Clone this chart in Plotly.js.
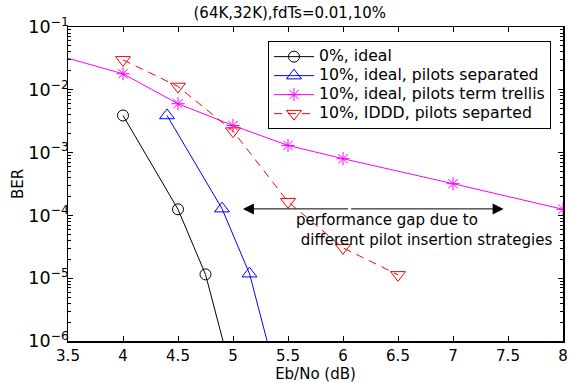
<!DOCTYPE html>
<html>
<head>
<meta charset="utf-8">
<script src="https://cdn.plot.ly/plotly-3.0.1.min.js"></script>
<style>
html,body{margin:0;padding:0;background:#fff;}
#chart{width:569px;height:383px;}
.legendtext{font-size:15.7px !important;}
</style>
</head>
<body>
<div id="chart"></div>
<script>
// Data
const xIdeal0 = [4, 4.5, 4.75, 5.0];
const berIdeal0 = [3.9e-3, 1.25e-4, 1.15e-5, 2.5e-7];

const xIdealSep = [4.4, 4.9, 5.15, 5.4];
const berIdealSep = [3.9e-3, 1.28e-4, 1.18e-5, 2.5e-7];

const xTrellis = [3.0, 4, 4.5, 5, 5.5, 6, 7, 8];
const berTrellis = [5.6e-2, 1.8e-2, 6.0e-3, 2.7e-3, 1.3e-3, 8.0e-4, 3.2e-4, 1.25e-4];

const xIDDD = [4, 4.5, 5, 5.5, 6, 6.5];
const berIDDD = [3.0e-2, 1.13e-2, 2.2e-3, 1.65e-4, 3.05e-5, 1.13e-5];

const seriesNames = ['0%, ideal', '10%, ideal, pilots separated', '10%, ideal, pilots term trellis', '10%, IDDD, pilots separted'];
const xTickVals = [3.5, 4, 4.5, 5, 5.5, 6, 6.5, 7, 7.5, 8];
const titleText = '(64K,32K),fdTs=0.01,10%';
const xLabel = 'Eb/No (dB)';
const yLabel = 'BER';
const gapArrow = {left: 5.09, mid: 6.06, right: 7.46, ber: 1.27e-4};
const gapText = {x: 5.55, ber: 5.78e-5, text: 'performance gap due to<br> different pilot insertion strategies'};

const font = 'DejaVu Sans, Liberation Sans, Arial, sans-serif';

const traces = [
  {x: xIdeal0, y: berIdeal0, name: seriesNames[0], mode: 'lines+markers',
   line: {color: '#000000', width: 1},
   marker: {symbol: 'circle-open', size: 11, color: '#000000', line: {width: 1}}},
  {x: xIdealSep, y: berIdealSep, name: seriesNames[1], mode: 'lines+markers',
   line: {color: '#0000ff', width: 1},
   marker: {symbol: 'triangle-up-open', size: 13, color: '#0000ff', line: {width: 1}}},
  {x: xTrellis, y: berTrellis, name: seriesNames[2], mode: 'lines+markers',
   line: {color: '#ff00ff', width: 1},
   marker: {symbol: 'asterisk-open', size: 11, color: '#ff00ff', line: {width: 1, color: '#ff00ff'}}},
  {x: xIDDD, y: berIDDD, name: seriesNames[3], mode: 'lines+markers',
   line: {color: '#ff0000', width: 1, dash: '8px,6px'},
   marker: {symbol: 'triangle-down-open', size: 13, color: '#ff0000', line: {width: 1}}}
];

const layout = {
  width: 569, height: 383,
  margin: {l: 68, r: 6, t: 27, b: 42},
  paper_bgcolor: '#ffffff', plot_bgcolor: '#ffffff',
  font: {family: font, size: 15, color: '#000'},
  showlegend: true,
  title: {text: titleText, x: 0.448, xref: 'paper', xanchor: 'center', y: 0.966, yref: 'container', yanchor: 'middle',
          font: {family: font, size: 15, color: '#000'}},
  xaxis: {
    range: [3.5, 8], tickvals: xTickVals, ticktext: xTickVals.map(String),
    ticks: 'inside', ticklen: 5, tickwidth: 1, tickcolor: '#000',
    showline: true, linecolor: '#000', linewidth: 1.5, mirror: 'allticks',
    showgrid: false, zeroline: false,
    tickfont: {family: font, size: 15},
    title: {text: xLabel, font: {family: font, size: 15}, standoff: 2}
  },
  yaxis: {
    type: 'log', range: [-6, -1], dtick: 1,
    exponentformat: 'power', showexponent: 'all',
    ticks: 'inside', ticklen: 5, tickwidth: 1, tickcolor: '#000',
    ticklabelstandoff: -5,
    minor: {ticks: 'inside', ticklen: 3, tickcolor: '#000', dtick: 'D1', showgrid: false},
    showline: true, linecolor: '#000', linewidth: 1.5, mirror: 'allticks',
    showgrid: false, zeroline: false,
    tickfont: {family: font, size: 14},
    title: {text: yLabel, font: {family: font, size: 15}, standoff: 1}
  },
  legend: {
    x: 0.404, y: 0.955, xanchor: 'left', yanchor: 'top',
    bordercolor: '#000', borderwidth: 1, bgcolor: '#ffffff',
    font: {family: font, size: 10}, tracegroupgap: 0, itemwidth: 40
  },
  annotations: [
    {x: gapArrow.left, y: Math.log10(gapArrow.ber), ax: gapArrow.mid, ay: Math.log10(gapArrow.ber),
     axref: 'x', ayref: 'y', xref: 'x', yref: 'y', text: '', showarrow: true,
     arrowhead: 2, arrowsize: 2.2, arrowwidth: 1, arrowcolor: '#000'},
    {x: gapArrow.right, y: Math.log10(gapArrow.ber), ax: gapArrow.mid, ay: Math.log10(gapArrow.ber),
     axref: 'x', ayref: 'y', xref: 'x', yref: 'y', text: '', showarrow: true,
     arrowhead: 2, arrowsize: 2.2, arrowwidth: 1, arrowcolor: '#000'},
    {x: gapText.x, y: Math.log10(gapText.ber), xref: 'x', yref: 'y', xanchor: 'left', yanchor: 'middle',
     align: 'left', showarrow: false, text: gapText.text, font: {family: font, size: 15, color: '#000'}}
  ]
};

Plotly.newPlot('chart', traces, layout, {displayModeBar: false, staticPlot: true});
</script>
</body>
</html>
